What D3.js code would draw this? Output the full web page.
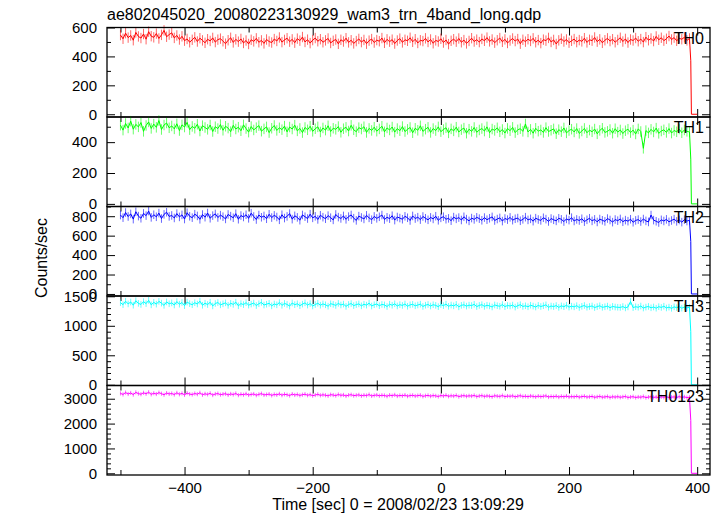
<!DOCTYPE html>
<html><head><meta charset="utf-8">
<script src="https://cdn.jsdelivr.net/npm/d3@7"></script>
<style>body{margin:0;background:#fff}svg{display:block}text{font-family:"Liberation Sans",Arial,sans-serif}</style>
</head><body><svg id="c" width="723" height="516"></svg>
<script>
const title = "ae802045020_20080223130929_wam3_trn_4band_long.qdp";
const xLabel = "Time [sec] 0 = 2008/02/23 13:09:29";
const yLabel = "Counts/sec";
const bandNames = ["TH0","TH1","TH2","TH3","TH0123"];
const bandColors = ["#ff0000","#00ff00","#0000ff","#00ffff","#ff00ff"];
const xDomain = [-521, 420];
const xMajor = [-400,-200,0,200,400];
const xMinor = [-500,-300,-100,100,300];
// time bins: 4 s bins from -500 to 388, then the end of the observation
const time = d3.range(-500, 389, 4).concat([390, 391, 400]);
const nBins = 223; // bins carrying an error bar
// spread per bin, per band (counts/sec)
const errs = [36, 34, 44, 56, 84];

const th0 = [548,522,561,530,545,512,566,538,527,555,519,571,540,532,558,524,549,580,536,551,
563,528,545,517,539,509,521,498,515,532,503,526,511,494,519,507,528,499,516,523,
505,488,512,529,497,518,502,521,493,510,486,515,504,525,498,511,490,517,503,496,
520,507,531,499,514,526,502,518,495,523,509,534,500,516,492,513,527,505,519,498,
511,524,493,508,517,487,515,503,526,497,512,490,506,521,499,514,488,509,520,496,
513,505,527,494,518,502,516,489,510,523,497,515,508,529,501,519,493,512,506,525,
500,517,491,511,503,522,496,514,485,508,519,502,524,498,513,490,507,526,503,516,
499,521,508,530,504,517,495,512,527,501,518,493,510,524,506,520,488,515,502,519,
507,525,498,513,492,516,509,528,500,514,486,511,522,503,517,495,508,520,499,513,
504,526,497,515,509,531,502,518,494,512,525,506,519,498,514,529,503,521,496,517,
510,527,505,520,499,533,512,524,506,538,515,529,509,522,541,517,530,508,525,519,
532,511,524,370,0,0];

const th1 = [510,478,521,492,536,484,515,499,527,470,508,531,489,517,496,540,482,511,524,493,
505,486,519,475,512,498,528,481,502,490,516,472,507,495,483,511,469,500,488,514,
477,503,491,468,509,485,497,474,512,488,465,501,479,494,507,471,486,499,462,490,
508,476,493,481,504,467,498,485,510,473,489,462,495,480,503,470,487,499,466,492,
478,506,469,490,483,501,464,487,496,472,509,480,468,494,485,500,463,489,476,497,
471,486,503,467,492,479,498,465,488,474,501,469,483,495,461,490,477,506,470,484,
496,463,488,475,499,468,482,493,460,486,473,497,466,481,491,458,484,470,495,464,
479,488,472,499,461,485,476,493,467,482,459,489,474,496,462,480,487,470,518,466,
483,458,490,471,479,463,494,469,477,486,455,481,468,492,460,475,484,466,488,457,
472,489,461,478,467,485,454,476,490,463,470,482,458,487,465,479,456,474,484,462,
478,453,486,469,360,475,460,483,466,491,457,472,480,463,488,459,476,467,485,461,
479,470,466,290,0,0];

const th2 = [812,785,838,797,824,770,846,801,779,829,806,853,788,815,794,832,776,819,841,798,
808,782,827,793,814,771,836,799,785,821,803,768,817,790,833,779,806,824,787,811,
795,772,818,801,784,826,769,807,792,815,778,831,797,766,812,789,803,774,820,786,
809,792,763,815,781,798,827,770,804,788,759,813,795,776,821,783,799,767,810,790,
774,806,785,762,818,791,777,803,768,796,813,780,757,801,787,772,809,783,764,798,
778,794,812,766,789,775,805,760,792,781,769,799,784,756,803,776,790,765,797,779,
763,788,772,800,758,783,795,769,778,754,791,773,786,761,794,770,752,781,767,789,
775,758,786,764,779,793,756,771,783,750,777,765,788,759,774,781,753,768,790,762,
773,749,780,766,757,784,770,746,776,763,752,779,768,745,772,760,785,751,767,756,
774,744,763,779,752,768,741,771,758,747,776,761,739,766,754,772,743,760,749,769,
738,757,765,745,771,752,741,812,760,748,735,763,751,768,742,756,770,747,761,739,
764,750,758,540,0,0];

const th3 = [1392,1358,1417,1371,1403,1349,1425,1380,1362,1409,1376,1431,1355,1398,1367,1414,1384,1346,1405,1373,
1388,1352,1410,1366,1395,1341,1402,1375,1357,1391,1369,1418,1348,1383,1360,1399,1337,1378,1394,1355,
1372,1389,1346,1381,1363,1401,1339,1376,1359,1392,1350,1368,1385,1343,1374,1397,1352,1366,1381,1338,
1370,1355,1393,1347,1379,1362,1334,1386,1358,1373,1341,1367,1389,1351,1376,1336,1360,1382,1349,1371,
1356,1332,1374,1363,1345,1380,1353,1368,1329,1361,1377,1342,1359,1371,1338,1365,1350,1384,1335,1357,
1369,1340,1362,1354,1327,1366,1348,1373,1336,1358,1345,1370,1331,1355,1364,1339,1352,1367,1328,1349,
1361,1335,1357,1346,1324,1359,1341,1368,1330,1352,1338,1362,1321,1347,1356,1333,1350,1343,1364,1326,
1345,1358,1329,1348,1337,1319,1353,1340,1331,1360,1325,1344,1336,1351,1317,1342,1357,1328,1339,1322,
1349,1334,1318,1346,1327,1340,1355,1314,1335,1326,1343,1312,1338,1324,1348,1316,1333,1321,1341,1310,
1330,1344,1315,1327,1336,1309,1325,1339,1313,1322,1334,1306,1329,1318,1314,1311,1326,1303,1320,1412,
1308,1323,1314,1335,1301,1317,1328,1305,1319,1298,1324,1311,1332,1302,1316,1296,1321,1307,1327,1299,
1318,1304,1312,900,0,0];

const th0123 = [3215,3172,3248,3190,3231,3165,3256,3204,3181,3239,3197,3262,3176,3222,3188,3245,3203,3160,3228,3193,
3210,3168,3237,3179,3214,3155,3226,3186,3170,3209,3182,3240,3158,3198,3174,3219,3147,3191,3207,3163,
3185,3201,3152,3193,3169,3212,3144,3180,3161,3199,3150,3173,3190,3141,3176,3204,3153,3167,3186,3135,
3172,3155,3196,3142,3178,3160,3128,3188,3151,3170,3134,3162,3183,3139,3165,3122,3149,3177,3136,3158,
3141,3117,3163,3148,3126,3170,3137,3152,3110,3145,3161,3124,3140,3156,3115,3143,3129,3166,3112,3135,
3150,3118,3139,3131,3100,3144,3123,3155,3108,3133,3119,3147,3102,3127,3138,3109,3125,3141,3096,3120,
3134,3103,3128,3115,3090,3130,3110,3142,3097,3121,3106,3136,3086,3114,3125,3099,3118,3107,3133,3088,
3112,3126,3093,3115,3101,3080,3120,3104,3094,3128,3085,3109,3098,3117,3076,3103,3122,3089,3100,3081,
3111,3095,3074,3106,3083,3099,3116,3068,3092,3080,3103,3066,3096,3077,3108,3070,3088,3075,3101,3062,
3085,3100,3066,3079,3093,3058,3076,3094,3061,3073,3089,3052,3080,3065,3084,3058,3075,3091,3050,3068,
3082,3047,3071,3060,3088,3045,3066,3079,3054,3070,3041,3076,3058,3083,3044,3064,3073,3049,3087,3055,
3074,3046,3061,2130,0,0];

const seriesValues = [th0, th1, th2, th3, th0123];
const yDomains = [[-19,600],[-17,563],[-21,900],[-12,1505],[-68,3532]];
const yMajorTicks = [[0,200,400,600],[0,200,400],[0,200,400,600,800],[0,500,1000,1500],[0,1000,2000,3000]];
const yMinorStep = [100,100,100,100,200];

const svg = d3.select("#c");
const L = 107, R = 710, T = 27.5, PH = 89.5;
const x = d3.scaleLinear().domain(xDomain).range([L, R]);
const fmtX = d => d < 0 ? "\u2212" + Math.abs(d) : String(d);

seriesValues.forEach((vals, p) => {
  const top = T + p * PH, bot = top + PH;
  const y = d3.scaleLinear().domain(yDomains[p]).range([bot, top]);
  const g = svg.append("g");
  const minor = d3.range(0, yDomains[p][1] + 1, yMinorStep[p]).filter(v => !yMajorTicks[p].includes(v));
  const la = g.append("g").attr("transform", `translate(${L},0)`)
    .call(d3.axisLeft(y).tickValues(yMajorTicks[p]).tickSizeInner(-8).tickSizeOuter(0).tickPadding(10).tickFormat(d3.format("d")));
  la.selectAll("text").attr("font-size", 15).attr("fill", "#000");
  g.append("g").attr("transform", `translate(${L},0)`)
    .call(d3.axisLeft(y).tickValues(minor).tickSizeInner(-4).tickSizeOuter(0).tickFormat(""));
  g.append("g").attr("transform", `translate(${R},0)`)
    .call(d3.axisRight(y).tickValues(yMajorTicks[p]).tickSizeInner(-8).tickSizeOuter(0).tickFormat(""));
  g.append("g").attr("transform", `translate(${R},0)`)
    .call(d3.axisRight(y).tickValues(minor).tickSizeInner(-4).tickSizeOuter(0).tickFormat(""));
  g.append("g").attr("transform", `translate(0,${top})`)
    .call(d3.axisTop(x).tickValues(xMajor).tickSizeInner(-8).tickSizeOuter(0).tickFormat(""));
  g.append("g").attr("transform", `translate(0,${top})`)
    .call(d3.axisTop(x).tickValues(xMinor).tickSizeInner(-5).tickSizeOuter(0).tickFormat(""));
  const bx = g.append("g").attr("transform", `translate(0,${bot})`)
    .call(d3.axisBottom(x).tickValues(xMajor).tickSizeInner(-8).tickSizeOuter(0).tickPadding(7)
      .tickFormat(p === 4 ? fmtX : ""));
  bx.selectAll("text").attr("font-size", 15).attr("fill", "#000");
  g.append("g").attr("transform", `translate(0,${bot})`)
    .call(d3.axisBottom(x).tickValues(xMinor).tickSizeInner(-5).tickSizeOuter(0).tickFormat(""));
  g.selectAll(".domain").remove();
  g.selectAll(".tick line").attr("stroke", "#000").attr("stroke-width", 1);

  // error bars
  const eb = vals.slice(0, nBins);
  g.append("g").selectAll("line").data(eb).join("line")
    .attr("x1", (d, i) => x(time[i])).attr("x2", (d, i) => x(time[i]))
    .attr("y1", d => y(d - errs[p])).attr("y2", d => y(d + errs[p]))
    .attr("stroke", bandColors[p]).attr("stroke-opacity", 0.6).attr("stroke-width", 1);

  const line = d3.line().x((d, i) => x(time[i])).y(d => y(d));
  g.append("path").datum(vals).attr("d", line)
    .attr("fill", "none").attr("stroke", bandColors[p]).attr("stroke-width", 1);

  g.append("rect").attr("x", L).attr("y", top).attr("width", R - L).attr("height", PH)
    .attr("fill", "none").attr("stroke", "#000").attr("stroke-width", 1.3);

  g.append("text").attr("x", 704).attr("y", top + 16).attr("text-anchor", "end")
    .attr("font-size", 16).attr("fill", "#000").text(bandNames[p]);
});

svg.append("text").attr("x", L).attr("y", 20).attr("font-size", 16).text(title);
svg.append("text").attr("x", 398).attr("y", 510).attr("text-anchor", "middle").attr("font-size", 16).text(xLabel);
svg.append("text").attr("transform", `translate(47,258) rotate(-90)`).attr("text-anchor", "middle").attr("font-size", 16).text(yLabel);
</script></body></html>
